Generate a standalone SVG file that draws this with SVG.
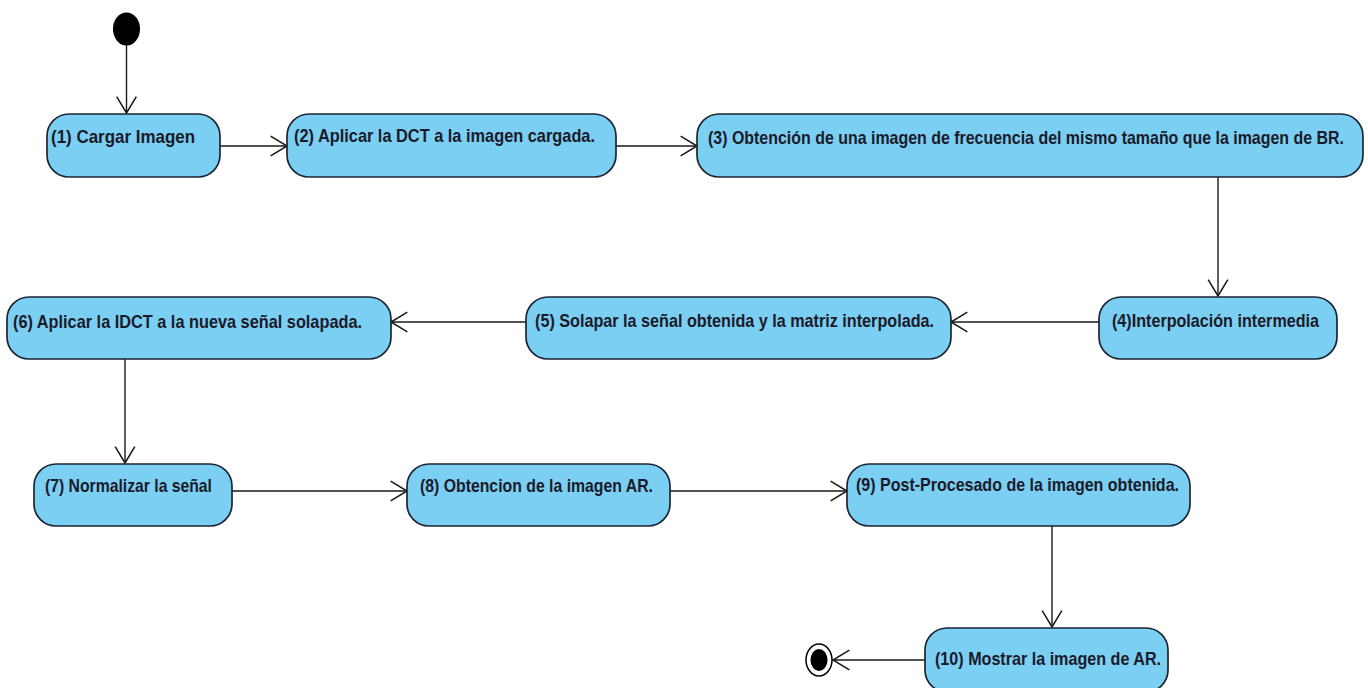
<svg xmlns="http://www.w3.org/2000/svg" width="1368" height="688" viewBox="0 0 1368 688">
<defs>
<marker id="arr" markerUnits="userSpaceOnUse" markerWidth="20" markerHeight="24" viewBox="-16 -11 18 22" refX="0" refY="0" orient="auto">
<path d="M -15 -9 L 0 0 L -15 9" fill="none" stroke="#1a1a1a" stroke-width="1.4"/>
</marker>
</defs>
<style>
.node rect{fill:#7bcff2;stroke:#1c2533;stroke-width:1.7}
.node text{font-family:"Liberation Sans",Arial,sans-serif;font-weight:bold;font-size:19px;fill:#1a1a2a}
.edge{fill:none;stroke:#1a1a1a;stroke-width:1.4;marker-end:url(#arr)}
</style>
<rect width="1368" height="688" fill="#ffffff"/>
<g id="connectors">
<line class="edge" x1="126.5" y1="45" x2="126.5" y2="113"/>
<line class="edge" x1="220" y1="146" x2="287" y2="146"/>
<line class="edge" x1="616" y1="146" x2="697" y2="146"/>
<line class="edge" x1="1218" y1="177" x2="1218" y2="296"/>
<line class="edge" x1="1099" y1="322" x2="951" y2="322"/>
<line class="edge" x1="526" y1="322" x2="391" y2="322"/>
<line class="edge" x1="125" y1="359" x2="125" y2="463"/>
<line class="edge" x1="232" y1="491" x2="407" y2="491"/>
<line class="edge" x1="670" y1="491" x2="847" y2="491"/>
<line class="edge" x1="1052" y1="525" x2="1052" y2="627"/>
<line class="edge" x1="925" y1="660" x2="833" y2="660"/>
</g>
<g id="start"><ellipse cx="126.5" cy="29" rx="13.5" ry="16.5" fill="#000"/></g>
<g id="n1" class="node"><rect x="47" y="114" width="173" height="63" rx="22"/><text x="51" y="143" textLength="144" lengthAdjust="spacingAndGlyphs">(1) Cargar Imagen</text></g>
<g id="n2" class="node"><rect x="287" y="114" width="329" height="63" rx="22"/><text x="294" y="142" textLength="301" lengthAdjust="spacingAndGlyphs">(2) Aplicar la DCT a la imagen cargada.</text></g>
<g id="n3" class="node"><rect x="697" y="114" width="666" height="63" rx="22"/><text x="708" y="144" textLength="636" lengthAdjust="spacingAndGlyphs">(3) Obtención de una imagen de frecuencia del mismo tamaño que la imagen de BR.</text></g>
<g id="n4" class="node"><rect x="1099" y="297" width="238" height="62" rx="22"/><text x="1112" y="327" textLength="207" lengthAdjust="spacingAndGlyphs">(4)Interpolación intermedia</text></g>
<g id="n5" class="node"><rect x="526" y="297" width="425" height="62" rx="22"/><text x="535" y="327" textLength="399" lengthAdjust="spacingAndGlyphs">(5) Solapar la señal obtenida y la matriz interpolada.</text></g>
<g id="n6" class="node"><rect x="7" y="297" width="384" height="62" rx="22"/><text x="13" y="328" textLength="349" lengthAdjust="spacingAndGlyphs">(6) Aplicar la IDCT a la nueva señal solapada.</text></g>
<g id="n7" class="node"><rect x="34" y="464" width="198" height="62" rx="22"/><text x="45" y="492" textLength="167" lengthAdjust="spacingAndGlyphs">(7) Normalizar la señal</text></g>
<g id="n8" class="node"><rect x="407" y="464" width="263" height="62" rx="22"/><text x="420" y="492" textLength="233" lengthAdjust="spacingAndGlyphs">(8) Obtencion de la imagen AR.</text></g>
<g id="n9" class="node"><rect x="847" y="464" width="343" height="62" rx="22"/><text x="856" y="491" textLength="323" lengthAdjust="spacingAndGlyphs">(9) Post-Procesado de la imagen obtenida.</text></g>
<g id="n10" class="node"><rect x="925" y="628" width="243" height="64" rx="22"/><text x="935" y="665" textLength="226" lengthAdjust="spacingAndGlyphs">(10) Mostrar la imagen de AR.</text></g>
<g id="end"><ellipse cx="819" cy="660" rx="13" ry="16" fill="#fff" stroke="#000" stroke-width="1.5"/><ellipse cx="819" cy="660" rx="8.5" ry="11" fill="#000"/></g>
</svg>
